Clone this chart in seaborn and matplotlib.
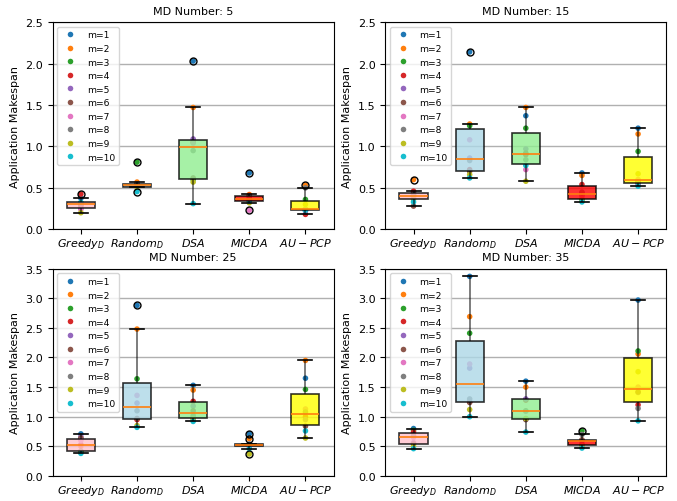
import matplotlib
matplotlib.use('Agg')
import matplotlib.pyplot as plt
import seaborn as sns
import pandas as pd
import numpy as np

# categories / labels
methods = ['$Greedy_D$', '$Random_D$', '$DSA$', '$MICDA$', '$AU-PCP$']
box_colors = ['pink', 'lightblue', 'lightgreen', 'red', 'yellow']
m_labels = ['m=%d' % i for i in range(1, 11)]
md_numbers = [5, 15, 25, 35]
y_tops = [2.5, 2.5, 3.5, 3.5]

# makespan values, one entry per m=1..10
greedy_md5 = [.375, .28, .31, .425, .255, .29, .24, .32, .20, .325]
random_md5 = [.53, .57, .81, .52, .54, .535, .515, .545, .51, .455]
dsa_md5 = [2.03, 1.47, .60, 1.05, 1.09, .62, 1.04, .95, .57, .31]
micda_md5 = [.68, .42, .36, .41, .35, .37, .23, .39, .32, .34]
aupcp_md5 = [.235, .53, .36, .18, .22, .24, .245, .50, .30, .23]

greedy_md15 = [.45, .60, .41, .46, .38, .28, .40, .42, .36, .33]
random_md15 = [2.14, 1.27, 1.25, .72, .86, .70, 1.08, .83, .66, .62]
dsa_md15 = [1.37, 1.47, 1.22, .90, .97, .92, .72, .84, .58, .77]
micda_md15 = [.68, .65, .36, .54, .45, .42, .40, .44, .35, .33]
aupcp_md15 = [1.22, 1.15, .94, .56, .55, .58, .60, .57, .67, .52]

greedy_md25 = [.71, .50, .41, .53, .66, .64, .60, .42, .40, .38]
random_md25 = [2.88, 2.48, 1.64, .95, 1.23, .97, 1.36, 1.10, .85, .82]
dsa_md25 = [1.53, 1.45, .98, 1.26, 1.18, 1.10, .97, 1.02, .96, .92]
micda_md25 = [.71, .63, .52, .53, .51, .52, .50, .54, .37, .46]
aupcp_md25 = [1.65, 1.95, 1.46, 1.00, .95, .84, 1.13, 1.08, .64, .76]

greedy_md35 = [.80, .66, .77, .74, .56, .54, .65, .68, .50, .46]
random_md35 = [3.37, 2.69, 2.41, 1.25, 1.82, 1.24, 1.89, 1.30, 1.12, 1.00]
dsa_md35 = [1.60, 1.50, .96, 1.28, 1.30, .95, 1.09, 1.10, .97, .74]
micda_md35 = [.59, .60, .76, .53, .60, .61, .51, .70, .50, .47]
aupcp_md35 = [2.97, 2.06, 2.11, 1.20, 1.41, 1.42, 1.50, 1.14, 1.76, .93]

panels = [
    [greedy_md5, random_md5, dsa_md5, micda_md5, aupcp_md5],
    [greedy_md15, random_md15, dsa_md15, micda_md15, aupcp_md15],
    [greedy_md25, random_md25, dsa_md25, micda_md25, aupcp_md25],
    [greedy_md35, random_md35, dsa_md35, micda_md35, aupcp_md35],
]

fig, axes = plt.subplots(2, 2, figsize=(6.77, 5.02), dpi=100)
fig.subplots_adjust(left=0.078, right=0.984, top=0.954, bottom=0.05, wspace=0.185, hspace=0.19)

for ax, md, groups, top in zip(axes.flat, md_numbers, panels, y_tops):
    df = pd.DataFrame({
        'method': np.repeat(methods, len(m_labels)),
        'value': np.concatenate(groups),
        'm': m_labels * len(methods),
    })
    # boxes sit above the points, so points inside show faded
    sns.boxplot(data=df, x='method', y='value', hue='method', palette=box_colors,
                saturation=1, legend=False, width=0.5, linecolor='black',
                linewidth=1.2, ax=ax, zorder=3,
                boxprops=dict(alpha=0.8),
                whiskerprops=dict(alpha=0.6),
                medianprops=dict(color='#ff7f0e', linewidth=1.2),
                flierprops=dict(marker='o', markerfacecolor='none',
                                markeredgecolor='black', markersize=5))
    sns.stripplot(data=df, x='method', y='value', hue='m', hue_order=m_labels,
                  palette='tab10', jitter=False, size=4, zorder=2, ax=ax)
    sns.move_legend(ax, 'upper left', title=None, fontsize=6.6, frameon=True)

    ax.set_ylim(0, top)
    ax.set_yticks(np.arange(0, top + 0.01, 0.5))
    ax.yaxis.grid(True, color='#b0b0b0', linewidth=1)
    ax.xaxis.grid(False)
    ax.set_xlabel('')
    ax.set_ylabel('Application Makespan', fontsize=8)
    ax.set_title('MD Number: %d' % md, fontsize=8)
    ax.tick_params(labelsize=8)
    ax.tick_params(axis='x', pad=1.5)

fig.savefig('out.png', dpi=100)
